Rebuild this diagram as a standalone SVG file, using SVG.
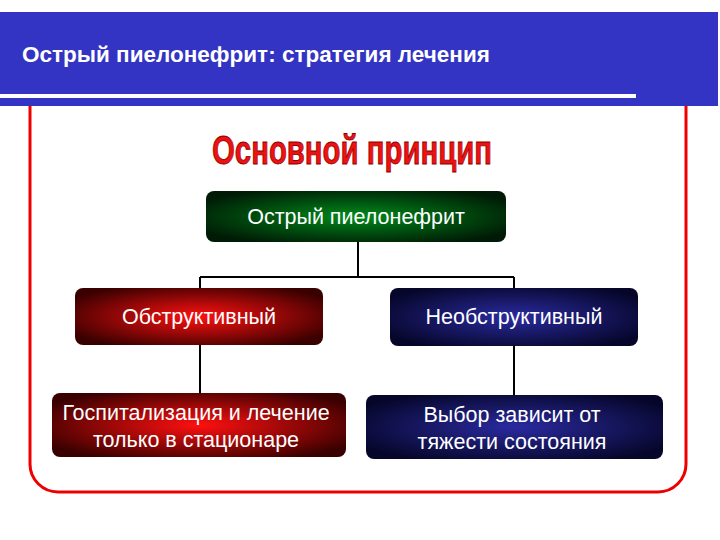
<svg xmlns="http://www.w3.org/2000/svg" width="720" height="540" viewBox="0 0 720 540">
<defs>
<radialGradient id="gG" cx="0.5" cy="0.5" r="0.6"><stop offset="0" stop-color="#008a1a"/><stop offset="1" stop-color="#001a05"/></radialGradient>
<radialGradient id="gR" cx="0.5" cy="0.5" r="0.6"><stop offset="0" stop-color="#ff1010"/><stop offset="1" stop-color="#3a0000"/></radialGradient>
<radialGradient id="gB" cx="0.5" cy="0.5" r="0.6"><stop offset="0" stop-color="#2a2aa0"/><stop offset="1" stop-color="#06062a"/></radialGradient>
</defs>
<style>
.t{font-family:"Liberation Sans",Arial,sans-serif;fill:#fff;text-anchor:middle;font-size:21.5px}
.c{stroke:#000;stroke-width:2;fill:none}
</style>
<rect width="720" height="540" fill="#fff"/>
<rect x="30" y="60" width="656" height="432" rx="28" fill="none" stroke="#e00" stroke-width="3"/>
<rect x="0" y="12" width="718" height="94" fill="#3333c4"/>
<rect x="0" y="94" width="636" height="4" fill="#fff"/>
<text x="22" y="62" font-family="Liberation Sans,Arial,sans-serif" font-weight="bold" font-size="22.5" fill="#fff">Острый пиелонефрит: стратегия лечения</text>
<text x="352" y="164" text-anchor="middle" font-family="Liberation Sans,Arial,sans-serif" font-weight="bold" font-size="40" fill="#ee1111" stroke="#800" stroke-width="0.8" textLength="280" lengthAdjust="spacingAndGlyphs">Основной принцип</text>
<g id="connectors" class="c">
<path d="M358 242V277M200 277H514M200 277V288M514 277V288M200 345V394M514 346V396"/>
</g>
<g id="n1"><rect x="206" y="191" width="300" height="51" rx="8" fill="url(#gG)"/><text class="t" x="356" y="224">Острый пиелонефрит</text></g>
<g id="n2"><rect x="75" y="288" width="248" height="57" rx="8" fill="url(#gR)"/><text class="t" x="199" y="324">Обструктивный</text></g>
<g id="n3"><rect x="390" y="288" width="248" height="58" rx="8" fill="url(#gB)"/><text class="t" x="514" y="324">Необструктивный</text></g>
<g id="n4"><rect x="52" y="393" width="294" height="64" rx="8" fill="url(#gR)"/><text class="t" x="196" y="420">Госпитализация и лечение</text><text class="t" x="196" y="447">только в стационаре</text></g>
<g id="n5"><rect x="366" y="395" width="297" height="64" rx="8" fill="url(#gB)"/><text class="t" x="512" y="422">Выбор зависит от</text><text class="t" x="512" y="449">тяжести состояния</text></g>
</svg>
